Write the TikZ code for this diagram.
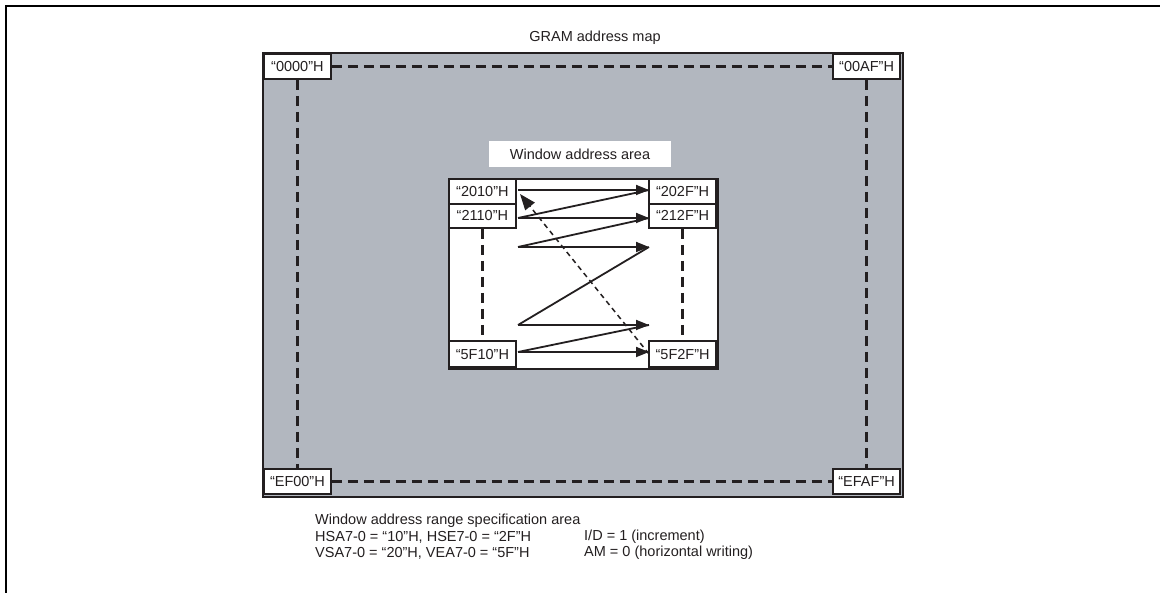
\documentclass[tikz,border=0pt]{standalone}
\usepackage{fontspec}
\setmainfont{Liberation Sans}
\usetikzlibrary{arrows.meta}
\definecolor{gramgray}{HTML}{B2B7BF}
\definecolor{ink}{HTML}{231F20}
\begin{document}
\begin{tikzpicture}[x=1pt,y=-1pt,
  every node/.style={font=\fontsize{14.5}{16}\selectfont, text=ink, inner sep=0pt},
  lbl/.style={draw=ink, line width=1.8pt, fill=white, minimum height=25pt, minimum width=67pt},
  bigdash/.style={draw=ink, line width=3.5pt, dash pattern=on 10pt off 6pt},
  scanarrow/.style={draw=ink, line width=1.8pt, -{Triangle[length=13pt,width=10pt]}},
  scanline/.style={draw=ink, line width=1.8pt},
  backarrow/.style={draw=ink, line width=1.5pt, dash pattern=on 5pt off 4pt, -{Triangle[length=16pt,width=12pt]}},
  txt/.style={anchor=west}
]
\useasboundingbox (0,0) rectangle (1160,593);
\draw[line width=2.2pt, black] (6,593) -- (6,6) -- (1160,6);

% GRAM area
\node[draw=ink, fill=gramgray, line width=1.8pt, minimum width=640pt, minimum height=444pt, anchor=north west] (gram) at (262,52) {};
\node (title) at (595,38) {GRAM address map};

\node[lbl, anchor=north west] (c0000) at (263,53) {“0000”H};
\node[lbl, anchor=north east] (c00AF) at (901,53) {“00AF”H};
\node[lbl, anchor=south west] (cEF00) at (263,495) {“EF00”H};
\node[lbl, anchor=south east] (cEFAF) at (901,495) {“EFAF”H};

\draw[bigdash] (c0000.east) -- (c00AF.west);
\draw[bigdash] (cEF00.east) -- (cEFAF.west);
\draw[bigdash] (c0000.south) -- (cEF00.north);
\draw[bigdash] (c00AF.south) -- (cEFAF.north);

% Window area
\node[draw=ink, fill=white, line width=1.8pt, minimum width=269pt, minimum height=190pt, anchor=north west] (win) at (448,178) {};
\node[fill=white, minimum width=182pt, minimum height=26pt] (wlabel) at (580,154) {Window address area};

\node[lbl, anchor=north west, minimum height=25pt] (w2010) at (448,178) {“2010”H};
\node[lbl, anchor=north west, minimum height=24pt] (w2110) at (448,203) {“2110”H};
\node[lbl, anchor=north east, minimum height=25pt] (w202F) at (717,178) {“202F”H};
\node[lbl, anchor=north east, minimum height=24pt] (w212F) at (717,203) {“212F”H};
\node[lbl, anchor=south west, minimum height=26pt] (w5F10) at (448,368) {“5F10”H};
\node[lbl, anchor=south east, minimum height=26pt] (w5F2F) at (717,368) {“5F2F”H};

\draw[bigdash] (w2110.south) -- (w5F10.north);
\draw[bigdash] (w212F.south) -- (w5F2F.north);

% scan rows
\coordinate (s1) at (518,190); \coordinate (e1) at (649,190);
\coordinate (s2) at (518,218); \coordinate (e2) at (649,218);
\coordinate (s3) at (518,247); \coordinate (e3) at (649,247);
\coordinate (s4) at (518,325); \coordinate (e4) at (649,325);
\coordinate (s5) at (518,352); \coordinate (e5) at (649,352);

\draw[scanline] (s2) -- (e1);
\draw[scanline] (s3) -- (e2);
\draw[scanline] (s4) -- (e3);
\draw[scanline] (s5) -- (e4);
\draw[scanarrow] (s1) -- (e1);
\draw[scanarrow] (s2) -- (e2);
\draw[scanarrow] (s3) -- (e3);
\draw[scanarrow] (s4) -- (e4);
\draw[scanarrow] (s5) -- (e5);

\coordinate (d0) at (649,354);
\coordinate (d1) at (520,194);
\draw[backarrow] (d0) -- (d1);

% specification text
\node[txt] (spec) at (315,521) {Window address range specification area};
\node[txt] (hsa) at (315,537) {HSA7-0 = “10”H, HSE7-0 = “2F”H};
\node[txt] (vsa) at (315,553) {VSA7-0 = “20”H, VEA7-0 = “5F”H};
\node[txt] (idn) at (584,537) {I/D = 1 (increment)};
\node[txt] (amn) at (584,553) {AM = 0 (horizontal writing)};
\end{tikzpicture}
\end{document}
